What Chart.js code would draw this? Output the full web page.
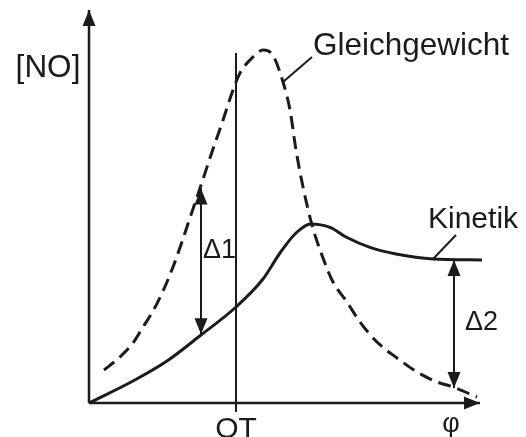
<!DOCTYPE html>
<html>
<head>
<meta charset="utf-8">
<script src="https://cdn.jsdelivr.net/npm/chart.js@4"></script>
<style>
  html, body { margin: 0; padding: 0; background: #fff; }
  #wrap { width: 526px; height: 437px; }
</style>
</head>
<body>
<div id="wrap"><canvas id="noChart"></canvas></div>
<script>
// Equilibrium NO concentration over phi (dashed curve)
const phiEq = [0.375, 0.775, 1.10, 1.35, 1.60, 1.85, 2.10, 2.325, 2.475, 2.775, 3.10, 3.35, 3.60, 3.775, 4.10, 4.35, 4.575, 4.85, 5.025, 5.175, 5.35, 5.575, 5.85, 6.10, 6.45, 6.775, 7.20, 7.70, 8.20, 8.70, 9.10, 9.70];
const noEq  = [0.825, 1.15, 1.50, 1.90, 2.30, 2.80, 3.40, 4.03, 4.48, 5.37, 6.35, 7.07, 7.825, 8.25, 8.65, 8.825, 8.725, 8.025, 7.325, 6.325, 5.40, 4.45, 3.625, 3.025, 2.525, 2.025, 1.525, 1.125, 0.775, 0.525, 0.40, 0.15];

// Kinetically limited NO concentration (solid curve)
const phiKin = [0, 1.10, 1.95, 2.80, 3.675, 4.35, 4.775, 5.175, 5.55, 6.025, 6.425, 7.025, 7.675, 8.60, 9.825];
const noKin  = [0, 0.55, 1.05, 1.70, 2.40, 3.10, 3.75, 4.25, 4.475, 4.39, 4.15, 3.89, 3.725, 3.60, 3.575];

// Axes, OT marker, difference arrows and label leaders (data units)
const axisY   = [[0, 0], [0, 9.825]];
const axisX   = [[0, 0], [9.775, 0]];
const otLine  = [[3.675, -0.225], [3.675, 8.75]];
const delta1  = [[2.80, 1.72], [2.80, 5.36]];
const delta2  = [[9.125, 0.375], [9.125, 3.575]];
const leadEq  = [[4.85, 8.025], [5.575, 8.65]];
const leadKin = [[8.60, 3.60], [9.175, 4.20]];

// Text labels: [text, phi, NO, align]
const labels = [
  ['[NO]', -1.025, 8.15, 'center'],
  ['Gleichgewicht', 5.6, 8.7, 'left'],
  ['Kinetik', 8.475, 4.375, 'left'],
  ['\u03941', 2.85, 3.625, 'left'],
  ['\u03942', 9.4, 1.825, 'left'],
  ['OT', 3.675, -0.875, 'center'],
  ['\u03c6', 9.05, -0.72, 'center']
];
const fontSize = { '[NO]': 31.5, 'Gleichgewicht': 31.5, 'Kinetik': 30, 'OT': 30 };

const ink = '#1b1b1b';
const toPts = pairs => pairs.map(p => ({ x: p[0], y: p[1] }));

function lineSet(pairs, width, arrows) {
  return {
    data: toPts(pairs),
    borderColor: ink,
    borderWidth: width,
    pointRadius: 0,
    showLine: true,
    tension: 0,
    arrows: arrows || []
  };
}

// Filled arrow heads at the ends of flagged datasets
const arrowHeads = {
  id: 'arrowHeads',
  afterDatasetsDraw(chart) {
    const { ctx, scales: { x, y } } = chart;
    chart.data.datasets.forEach(ds => {
      (ds.arrows || []).forEach(end => {
        const pts = ds.data;
        const tip = end === 'end' ? pts[pts.length - 1] : pts[0];
        const from = end === 'end' ? pts[pts.length - 2] : pts[1];
        const tx = x.getPixelForValue(tip.x), ty = y.getPixelForValue(tip.y);
        const fx = x.getPixelForValue(from.x), fy = y.getPixelForValue(from.y);
        const ang = Math.atan2(ty - fy, tx - fx);
        const len = 16, half = 6.5;
        ctx.save();
        ctx.fillStyle = ink;
        ctx.translate(tx, ty);
        ctx.rotate(ang);
        ctx.beginPath();
        ctx.moveTo(0, 0);
        ctx.lineTo(-len, -half);
        ctx.lineTo(-len, half);
        ctx.closePath();
        ctx.fill();
        ctx.restore();
      });
    });
  }
};

const textLabels = {
  id: 'textLabels',
  afterDraw(chart) {
    const { ctx, scales: { x, y } } = chart;
    ctx.save();
    ctx.fillStyle = ink;
    ctx.textBaseline = 'alphabetic';
    labels.forEach(([t, px, py, align]) => {
      ctx.font = (fontSize[t] || 27) + 'px "Liberation Sans", Arial, sans-serif';
      ctx.textAlign = align;
      ctx.fillText(t, x.getPixelForValue(px), y.getPixelForValue(py));
    });
    ctx.restore();
  }
};

new Chart(document.getElementById('noChart'), {
  type: 'scatter',
  data: {
    datasets: [
      Object.assign(lineSet(phiEq.map((v, i) => [v, noEq[i]]), 3), {
        borderDash: [13, 7],
        cubicInterpolationMode: 'monotone'
      }),
      Object.assign(lineSet(phiKin.map((v, i) => [v, noKin[i]]), 3), {
        cubicInterpolationMode: 'monotone'
      }),
      lineSet(axisY, 2.5, ['end']),
      lineSet(axisX, 2.5, ['end']),
      lineSet(otLine, 2),
      lineSet(delta1, 2, ['start', 'end']),
      lineSet(delta2, 2, ['start', 'end']),
      lineSet(leadEq, 2),
      lineSet(leadKin, 2)
    ]
  },
  options: {
    responsive: true,
    maintainAspectRatio: false,
    animation: false,
    layout: { padding: 0 },
    plugins: {
      legend: { display: false },
      tooltip: { enabled: false },
      title: { display: false }
    },
    scales: {
      x: { type: 'linear', display: false, min: -2.225, max: 10.925 },
      y: { type: 'linear', display: false, min: -0.85, max: 10.075 }
    }
  },
  plugins: [arrowHeads, textLabels]
});
</script>
</body>
</html>
